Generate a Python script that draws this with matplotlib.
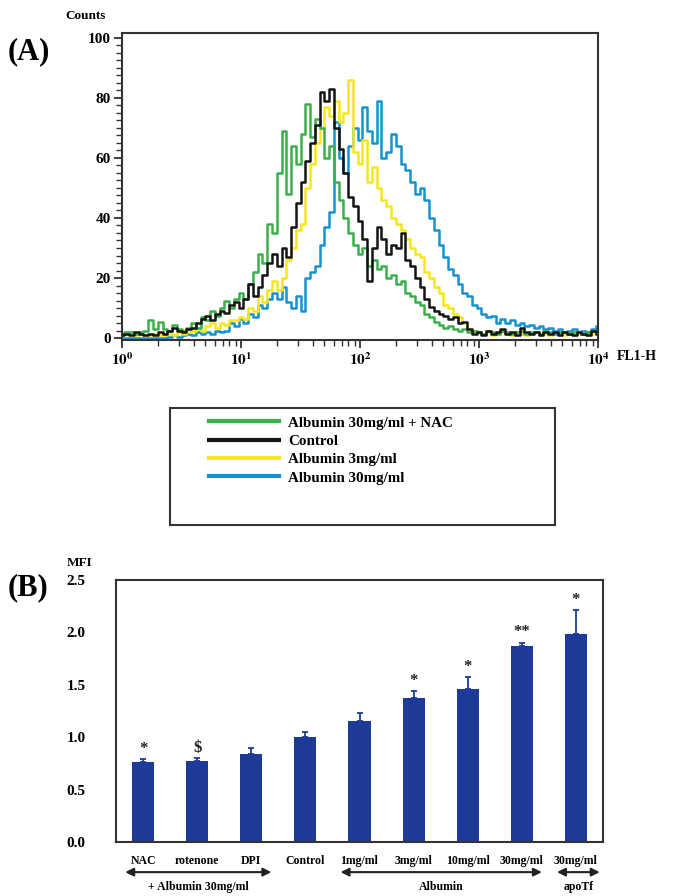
import numpy as np
import matplotlib
matplotlib.use('Agg')
import matplotlib.pyplot as plt
from matplotlib.ticker import MultipleLocator, FixedLocator, LogLocator, NullFormatter

plt.rcParams['font.family'] = ['Liberation Serif', 'DejaVu Serif']
plt.rcParams['font.weight'] = 'bold'
plt.rcParams['mathtext.fontset'] = 'stix'

#------------------------------------------------------------------------------
# (A) histogram data: channels every 0.04 decade, from 10^0 to 10^4

log_fl1 = np.arange(0, 101) * 0.04

cnt_nac = [1.5, 2, 2, 1.5, 2, 2.5, 6, 3, 5.5, 3,
           2.5, 4.5, 3, 2.5, 3.5, 5, 3.5, 7, 6, 9,
           7.5, 10, 12.5, 10, 13, 15, 13, 18, 22, 28,
           25, 38, 35, 55, 69, 48, 64, 58, 68, 78,
           67, 73, 70, 60, 64, 52, 46, 40, 35, 31,
           28, 30, 24, 26, 23, 24, 20, 21, 18, 19,
           15, 14, 12, 11, 8, 7, 5.5, 4.5, 3.5, 4,
           3, 2.5, 3, 2, 2.5, 2, 1.5, 2.5, 2, 1.5,
           2.5, 2, 1.5, 2, 2.5, 1.5, 2, 2, 1.5, 2.5,
           2, 1.5, 2, 2, 1.5, 2, 2, 1.5, 2, 2.5, 2]

cnt_ctrl = [1, 1.5, 1, 2, 1.5, 1, 1.5, 1, 2, 1.5,
            2.5, 3.5, 2.5, 2, 3, 3.5, 5, 6.5, 7.5, 6,
            8, 9, 8.5, 11, 12, 10, 13, 18, 14, 17,
            21, 25, 28, 24, 30, 27, 37, 45, 52, 59,
            65, 71, 82, 79, 83, 70, 63, 55, 47, 44,
            39, 33, 19, 30, 37, 33, 28, 31, 30, 35,
            26, 24, 20, 17, 13, 10.5, 9, 8, 7.5, 6.5,
            7, 5, 5.5, 3, 1.5, 2, 1, 2.5, 1.5, 2,
            3, 1.5, 2, 1, 3.5, 2, 1.5, 2, 1, 2,
            1.5, 2, 1, 2, 1.5, 1, 2, 1.5, 1, 2.5, 1.5]

cnt_alb3 = [1, 1.5, 1, 1, 1.5, 1, 1, 1.5, 1, 1,
            1.5, 1, 2, 1.5, 2, 2.5, 3, 2.5, 4, 5,
            3.5, 5, 4.5, 6, 6, 7, 6.5, 10, 9, 14,
            12, 16, 19, 16, 20, 26, 30, 36, 38, 50,
            58, 65, 70, 77, 74, 79, 72, 75, 86, 62,
            58, 66, 52, 57, 50, 46, 44, 40, 38, 36,
            33, 30, 28, 27, 22, 20, 17, 15, 11, 10,
            8, 7, 5, 3, 2.5, 2, 1.5, 2, 1, 1.5,
            2, 1.5, 1, 2, 1.5, 1, 1.5, 2, 1, 1.5,
            1, 2, 1.5, 1, 1.5, 1, 2, 1.5, 1, 1.5, 2]

cnt_alb30 = [0, 0, 0, 0, 0, 0, 0, 0, 0, 0,
             0.5, 1, 0.5, 1, 1.5, 1, 2, 1.5, 2, 1.5,
             2.5, 2, 2.5, 5, 4, 6.5, 5, 8, 7, 11,
             10, 13, 15, 13, 17, 12, 10, 14, 9, 20,
             22, 24, 31, 37, 42, 72, 60, 55, 64, 70,
             66, 77, 69, 65, 79, 60, 62, 68, 64, 58,
             56, 52, 48, 50, 46, 40, 36, 31, 27, 23,
             21, 18, 15, 14, 11, 10, 8, 7, 7.5, 5,
             6.5, 5, 6, 4.5, 5, 4, 4.5, 3.5, 4, 3,
             3.5, 2.5, 3, 2, 2.5, 3, 2, 2.5, 2, 3, 4]

hist_labels = ['Albumin 30mg/ml + NAC', 'Control', 'Albumin 3mg/ml', 'Albumin 30mg/ml']
hist_colors = ['#3bb04a', '#141414', '#f7e61a', '#1592cf']

#------------------------------------------------------------------------------
# (B) MFI bars

bar_names = ['NAC', 'rotenone', 'DPI', 'Control', '1mg/ml', '3mg/ml',
             '10mg/ml', '30mg/ml', '30mg/ml']
mfi = [0.76, 0.77, 0.84, 1.00, 1.155, 1.37, 1.46, 1.87, 1.98]
mfi_err = [0.03, 0.03, 0.06, 0.05, 0.08, 0.07, 0.11, 0.03, 0.23]
signif = ['*', r'\$', '', '', '', '*', '*', '**', '*']

groups = ['+ Albumin 30mg/ml', 'Albumin', 'apoTf']
group_span = [(-0.33, 2.37), (3.65, 7.37), (7.65, 8.44)]

bar_color = '#1d3a98'

#------------------------------------------------------------------------------

fig = plt.figure(figsize=(6.76, 8.96), dpi=100)

# ---- panel A ----
ax1 = fig.add_axes([122/676, 1 - 340/896, 476/676, 307/896])

x_fl1 = 10 ** log_fl1
series = [cnt_nac, cnt_ctrl, cnt_alb3, cnt_alb30]
lines = {}
for k in [3, 2, 0, 1]:
    ln, = ax1.plot(x_fl1, series[k], drawstyle='steps-mid', color=hist_colors[k],
                   lw=1.8, label=hist_labels[k])
    lines[k] = ln

ax1.set_xscale('log')
ax1.set_xlim(1, 1e4)
ax1.set_ylim(-0.6, 101.5)
ax1.xaxis.set_major_locator(FixedLocator([1, 10, 100, 1000, 10000]))
ax1.set_xticklabels([r'$\mathbf{10^{%d}}$' % p for p in range(5)], fontsize=12)
ax1.xaxis.set_minor_locator(LogLocator(base=10, subs=np.arange(2, 10)))
ax1.xaxis.set_minor_formatter(NullFormatter())
ax1.yaxis.set_major_locator(FixedLocator([0, 20, 40, 60, 80, 100]))
ax1.yaxis.set_minor_locator(MultipleLocator(2.5))
ax1.tick_params(axis='both', which='major', direction='out', length=6, width=1.3,
                labelsize=11, pad=2, color='#333')
ax1.tick_params(axis='both', which='minor', direction='out', length=4, width=1.0,
                color='#333')
for lab in ax1.get_yticklabels():
    lab.set_fontweight('bold')
for sp in ax1.spines.values():
    sp.set_linewidth(1.5)
    sp.set_color('#333')

fig.text(65/676, 1 - 16/896, 'Counts', fontsize=9.5, fontweight='bold', va='center')
fig.text(8/676, 1 - 52/896, '(A)', fontsize=22, fontweight='bold', va='center')
ax1.text(1.04, -0.055, 'FL1-H', transform=ax1.transAxes, fontsize=10,
         fontweight='bold', va='center', ha='left')

# ---- legend box ----
axl = fig.add_axes([170/676, 1 - 525/896, 385/676, 117/896])
axl.set_xticks([])
axl.set_yticks([])
for sp in axl.spines.values():
    sp.set_linewidth(1.5)
    sp.set_color('#333')
leg = axl.legend([lines[k] for k in range(4)], hist_labels, loc='upper left',
                 bbox_to_anchor=(0.065, 1.045), frameon=False, fontsize=10.8,
                 handlelength=4.7, handletextpad=0.6, labelspacing=0.32)
for ln in leg.get_lines():
    ln.set_linewidth(3)
for t in leg.get_texts():
    t.set_fontweight('bold')

# ---- panel B ----
ax2 = fig.add_axes([116/676, 1 - 842/896, 487/676, 262/896])
pos = np.arange(len(mfi))
ax2.bar(pos, mfi, width=0.41, color=bar_color, zorder=2)
ax2.errorbar(pos, mfi, yerr=[np.zeros(len(mfi)), mfi_err], fmt='none',
             ecolor=bar_color, elinewidth=1.3, capsize=2.5, capthick=1.3, zorder=3)
for p, v, e, s in zip(pos, mfi, mfi_err, signif):
    if s:
        ax2.text(p, v + e + 0.1, s, ha='center', va='center', fontsize=12,
                 fontweight='bold', color='#222')

ax2.set_xlim(-0.5, 8.5)
ax2.set_ylim(0, 2.5)
ax2.set_yticks([0, 0.5, 1.0, 1.5, 2.0, 2.5])
ax2.set_yticklabels(['%.1f' % v for v in [0, 0.5, 1.0, 1.5, 2.0, 2.5]],
                    fontsize=11, fontweight='bold')
ax2.set_xticks(pos)
ax2.set_xticklabels(bar_names, fontsize=8.5, fontweight='bold')
ax2.tick_params(axis='y', length=0, pad=22)
ax2.tick_params(axis='x', length=0, pad=9)
for sp in ax2.spines.values():
    sp.set_linewidth(1.5)
    sp.set_color('#333')

for name, (x0, x1) in zip(groups, group_span):
    ax2.annotate('', xy=(x0, -0.115), xytext=(x1, -0.115),
                 xycoords=('data', 'axes fraction'),
                 textcoords=('data', 'axes fraction'),
                 arrowprops=dict(arrowstyle='<|-|>', color='#222', lw=1.5,
                                 mutation_scale=12, shrinkA=0, shrinkB=0),
                 annotation_clip=False)
    ax2.text((x0 + x1) / 2, -0.172, name, transform=ax2.get_xaxis_transform(),
             ha='center', va='center', fontsize=8.5, fontweight='bold')

fig.text(67/676, 1 - 563/896, 'MFI', fontsize=9.5, fontweight='bold', va='center')
fig.text(8/676, 1 - 588/896, '(B)', fontsize=22, fontweight='bold', va='center')

fig.savefig('out.png', dpi=100)
